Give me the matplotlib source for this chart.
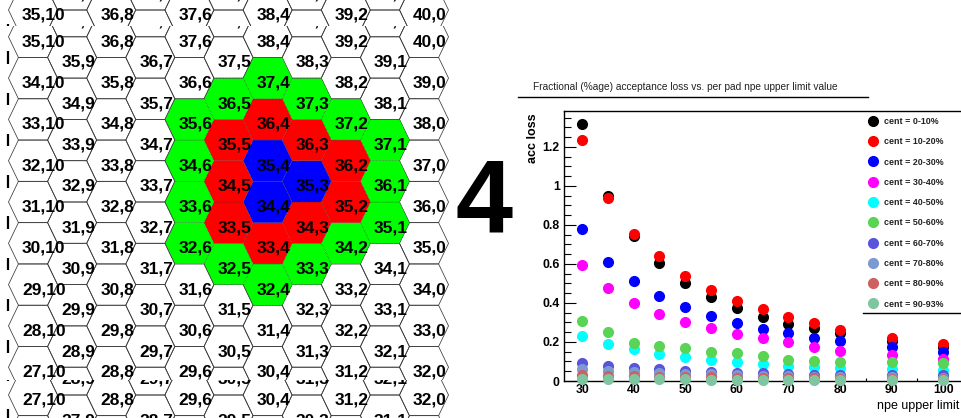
import matplotlib.pyplot as plt
import matplotlib.patches as mpatches
from matplotlib.lines import Line2D

plt.rcParams['font.family'] = ['Liberation Sans', 'DejaVu Sans']

# pad map: label is "row,col", col 10 is on the left
pad_cols = list(range(11))
pad_rows = list(range(26, 42))
blue_pads = [(35, 4), (35, 3), (34, 4)]
red_pads = [(36, 4), (36, 3), (35, 5), (36, 2), (34, 5), (35, 2), (33, 5), (34, 3), (33, 4)]
green_pads = [(37, 4), (36, 5), (37, 3), (35, 6), (37, 2), (34, 6), (37, 1), (33, 6),
              (36, 1), (32, 6), (35, 1), (32, 5), (34, 2), (33, 3), (32, 4)]

# acceptance loss vs npe upper limit
npe_limit = [30, 35, 40, 45, 50, 55, 60, 65, 70, 75, 80, 90, 100]
loss_0_10 = [1.32, 0.95, 0.745, 0.605, 0.505, 0.43, 0.373, 0.33, 0.292, 0.27, 0.244, 0.207, 0.172]
loss_10_20 = [1.235, 0.937, 0.754, 0.641, 0.538, 0.467, 0.412, 0.371, 0.326, 0.296, 0.262, 0.223, 0.19]
loss_20_30 = [0.778, 0.612, 0.513, 0.438, 0.381, 0.333, 0.299, 0.265, 0.244, 0.222, 0.205, 0.175, 0.15]
loss_30_40 = [0.595, 0.475, 0.398, 0.344, 0.304, 0.27, 0.241, 0.219, 0.202, 0.175, 0.156, 0.135, 0.113]
loss_40_50 = [0.231, 0.19, 0.162, 0.138, 0.121, 0.108, 0.097, 0.087, 0.075, 0.071, 0.065, 0.06, 0.057]
loss_50_60 = [0.309, 0.25, 0.193, 0.181, 0.168, 0.15, 0.145, 0.13, 0.108, 0.103, 0.097, 0.095, 0.09]
loss_60_70 = [0.094, 0.077, 0.068, 0.06, 0.051, 0.048, 0.043, 0.039, 0.037, 0.033, 0.032, 0.032, 0.03]
loss_70_80 = [0.06, 0.052, 0.048, 0.043, 0.037, 0.034, 0.031, 0.028, 0.024, 0.022, 0.02, 0.019, 0.017]
loss_80_90 = [0.03, 0.026, 0.025, 0.022, 0.02, 0.018, 0.017, 0.015, 0.014, 0.013, 0.012, 0.011, 0.01]
loss_90_93 = [0.01, 0.009, 0.009, 0.008, 0.008, 0.007, 0.007, 0.006, 0.006, 0.006, 0.005, 0.005, 0.005]
cent_labels = ["cent = 0-10%", "cent = 10-20%", "cent = 20-30%", "cent = 30-40%", "cent = 40-50%",
               "cent = 50-60%", "cent = 60-70%", "cent = 70-80%", "cent = 80-90%", "cent = 90-93%"]
cent_colors = ["#000000", "#ff0000", "#0000ff", "#ff00ff", "#00ffff",
               "#59d454", "#5954d9", "#7d99d1", "#cf6062", "#7fc6a0"]
y_ticks = [0, 0.2, 0.4, 0.6, 0.8, 1.0, 1.2]
y_tick_labels = ["0", "0.2", "0.4", "0.6", "0.8", "1", "1.2"]
x_ticks = [30, 40, 50, 60, 70, 80, 90, 100]

W, H = 961, 418


def px_rect(x0, y0, x1, y1):
    return [x0 / W, 1 - y1 / H, (x1 - x0) / W, (y1 - y0) / H]


def pad_color(r, c):
    if (r, c) in blue_pads:
        return "#0000ff"
    if (r, c) in red_pads:
        return "#ff0000"
    if (r, c) in green_pads:
        return "#00ff00"
    return None


def draw_pads(ax, ylim):
    a, b = 0.627, 0.373
    for c in pad_cols:
        for r in pad_rows:
            u = 10 - c
            lev = r - (10 - c) / 2
            if lev < 26 or lev > 36:
                continue
            pts = [(u - a, lev), (u - b, lev + 0.5), (u + b, lev + 0.5),
                   (u + a, lev), (u + b, lev - 0.5), (u - b, lev - 0.5)]
            col = pad_color(r, c)
            if col:
                ax.add_patch(mpatches.Polygon(pts, closed=True, facecolor=col,
                                              edgecolor="#333333", lw=0.4, ls=":"))
            else:
                ax.add_patch(mpatches.Polygon(pts, closed=True, fill=False,
                                              edgecolor="#3a3a3a", lw=0.55))
            ax.text(u - 0.28, lev - 0.12, f"{r},{c}", fontsize=12.5, fontweight="bold",
                    ha="left", va="center", clip_on=True)
    half_levels = [k + 0.5 for k in range(26, 36)]
    ax.vlines([-0.64] * len(half_levels), [h - 0.15 for h in half_levels],
              [h + 0.15 for h in half_levels], color="black", lw=1.6)
    ax.set_xlim(-0.844, 10.665)
    ax.set_ylim(*ylim)
    ax.axis("off")


fig = plt.figure(figsize=(W / 100, H / 100), dpi=100)

ax_top = fig.add_axes(px_rect(0, 0, 450, 26))
draw_pads(ax_top, (35 - 16 / 41.3, 35 + 10 / 41.3))
ax_main = fig.add_axes(px_rect(0, 26, 450, 380))
draw_pads(ax_main, (31 - 178 / 41.3, 31 + 176 / 41.3))
ax_bot = fig.add_axes(px_rect(0, 380, 450, 418))
draw_pads(ax_bot, (27 - 23 / 41.3, 27 + 15 / 41.3))

fig.text(484 / W, 1 - 233 / H, "4", fontsize=74, fontweight="bold",
         family=["Liberation Sans Narrow", "Liberation Sans"], ha="center", va="baseline")

# right panel
ax = fig.add_axes(px_rect(564, 111, 966, 381))
series = [loss_0_10, loss_10_20, loss_20_30, loss_30_40, loss_40_50,
          loss_50_60, loss_60_70, loss_70_80, loss_80_90, loss_90_93]
for vals, lab, col in zip(series, cent_labels, cent_colors):
    ax.plot(npe_limit, vals, "o", ms=7, color=col, mec=col, label=lab, clip_on=False, zorder=3)

ax.set_xlim(26.5, 104.4)
ax.set_ylim(0, 1.3846)
ax.set_xticks(x_ticks)
ax.set_xticks([35, 45, 55, 65, 75, 85, 95], minor=True)
ax.set_yticks(y_ticks)
ax.set_yticklabels(y_tick_labels)
ax.set_yticks([k * 0.05 for k in range(28)], minor=True)
ax.tick_params(axis="x", which="major", direction="in", length=4, width=0.8, pad=2,
               labelsize=8.8)
ax.tick_params(axis="x", which="minor", direction="in", length=2.5, width=0.8)
ax.tick_params(axis="y", which="major", direction="in", length=8.5, width=0.8, pad=3,
               labelsize=8.8)
ax.tick_params(axis="y", which="minor", direction="in", length=5, width=0.8)
for lbl in ax.get_xticklabels() + ax.get_yticklabels():
    lbl.set_fontweight("bold")
for s in ax.spines.values():
    s.set_linewidth(1.0)

leg = ax.legend(loc="upper left", bbox_to_anchor=(869 / W, 1 - 117 / H),
                bbox_transform=fig.transFigure, frameon=False, borderpad=0,
                borderaxespad=0, handlelength=0.8, handletextpad=0.9,
                labelspacing=1.27, prop={"size": 6.4, "weight": "bold"})
for t in leg.get_texts():
    t.set_color("#222222")

fig.add_artist(Line2D([863 / W, 1.0], [1 - 313 / H] * 2, color="black", lw=1.0))
fig.add_artist(Line2D([518 / W, 868 / W], [1 - 97 / H] * 2, color="black", lw=1.0))
fig.text(533 / W, 1 - 87 / H,
         "Fractional (%age) acceptance loss vs. per pad npe upper limit value",
         fontsize=7.3, ha="left", va="center", color="#222222")
fig.text(533 / W, 1 - 113 / H, "acc loss", fontsize=9, fontweight="bold",
         rotation=90, ha="center", va="top")
fig.text(959 / W, 1 - 406 / H, "npe upper limit", fontsize=9, ha="right", va="center")

fig.savefig("out.png", dpi=100)
